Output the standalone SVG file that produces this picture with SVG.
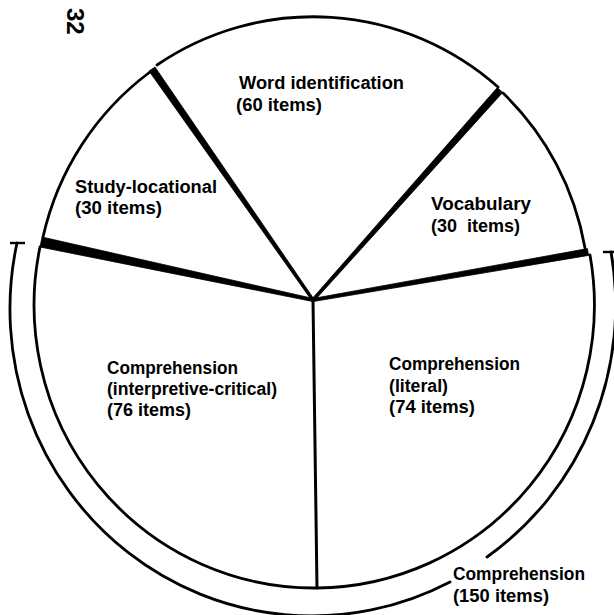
<svg xmlns="http://www.w3.org/2000/svg" width="614" height="615" viewBox="0 0 614 615">
<style>
.rim{fill:none;stroke:#000;stroke-width:2.8;stroke-linecap:round}
.sep{fill:#000;stroke:#000;stroke-width:0.8;stroke-linejoin:round}
.lbl{font-family:"Liberation Sans",Arial,sans-serif;font-weight:bold;font-size:18px;fill:#000}
.pg{font-family:"Liberation Sans",Arial,sans-serif;font-weight:bold;font-size:24px;fill:#000}
</style>
<rect width="614" height="615" fill="#fff"/>
<text class="pg" transform="translate(67,8) rotate(90)" x="0" y="0">32</text>
<g id="study-locational">
<path class="rim" d="M43,237 A280 283 0 0 1 150,72"/>
<text class="lbl" x="75" y="193" textLength="142" lengthAdjust="spacingAndGlyphs">Study-locational</text>
<text class="lbl" x="75" y="214" textLength="87" lengthAdjust="spacingAndGlyphs">(30 items)</text>
</g>
<g id="word-identification">
<path class="rim" d="M157,65 A280 283 0 0 1 498,87"/>
<text class="lbl" x="239" y="89" textLength="165" lengthAdjust="spacingAndGlyphs">Word identification</text>
<text class="lbl" x="236" y="111" textLength="86" lengthAdjust="spacingAndGlyphs">(60 items)</text>
</g>
<g id="vocabulary">
<path class="rim" d="M503,93 A280 283 0 0 1 585,248"/>
<text class="lbl" x="431" y="210" textLength="100" lengthAdjust="spacingAndGlyphs">Vocabulary</text>
<text class="lbl" y="232"><tspan x="431">(30</tspan> <tspan x="467">items)</tspan></text>
</g>
<g id="comprehension-literal">
<path class="rim" d="M590,255 A280 283 0 0 1 317,588"/>
<text class="lbl" x="389" y="370" textLength="131" lengthAdjust="spacingAndGlyphs">Comprehension</text>
<text class="lbl" x="389" y="392" textLength="59" lengthAdjust="spacingAndGlyphs">(literal)</text>
<text class="lbl" x="389" y="413" textLength="86" lengthAdjust="spacingAndGlyphs">(74 items)</text>
</g>
<g id="comprehension-interpretive">
<path class="rim" d="M317,588 A280 283 0 0 1 40,247"/>
<text class="lbl" x="107" y="374" textLength="131" lengthAdjust="spacingAndGlyphs">Comprehension</text>
<text class="lbl" x="107" y="395" textLength="170" lengthAdjust="spacingAndGlyphs">(interpretive-critical)</text>
<text class="lbl" x="107" y="416" textLength="84" lengthAdjust="spacingAndGlyphs">(76 items)</text>
</g>
<g id="connectors">
<polygon class="sep" points="149,71 155,67 314.1,299.3 311.9,300.7"/>
<polygon class="sep" points="497.3,87.6 502.7,92.4 314.1,301 311.9,299"/>
<polygon class="sep" points="40,247 42,237 313.3,298.5 312.7,301.5"/>
<polygon class="sep" points="587.4,248.6 588.6,255.4 313.3,301.5 312.7,298.5"/>
<line x1="313" y1="300" x2="317" y2="588" stroke="#000" stroke-width="3"/>
</g>
<g id="comprehension-total">
<path class="rim" d="M17,243 A302 307 0 0 0 450,582"/>
<path class="rim" d="M487,557 A302 307 0 0 0 611,252"/>
<line x1="10" y1="243" x2="25" y2="243" stroke="#000" stroke-width="2.4"/>
<line x1="603" y1="252" x2="614" y2="252" stroke="#000" stroke-width="2.4"/>
<text class="lbl" x="453" y="580" textLength="132" lengthAdjust="spacingAndGlyphs">Comprehension</text>
<text class="lbl" x="453" y="602" textLength="96" lengthAdjust="spacingAndGlyphs">(150 items)</text>
</g>
</svg>
